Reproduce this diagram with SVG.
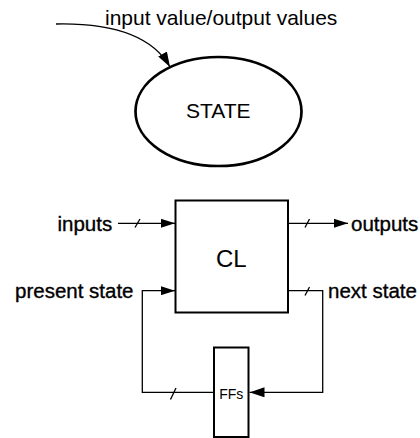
<svg xmlns="http://www.w3.org/2000/svg" width="420" height="438" viewBox="0 0 420 438">
  <defs>
    <style>
      .lbl { font-family: "Liberation Sans", Arial, sans-serif; fill: #000; }
      .heavy { stroke: #000; stroke-width: 0.35; }
      .wire { fill: none; stroke: #000; stroke-width: 1.3; }
      .box { fill: #fff; stroke: #000; stroke-width: 2; }
    </style>
    <marker id="arr" markerUnits="userSpaceOnUse" markerWidth="14" markerHeight="9" refX="14" refY="4.5" orient="auto">
      <path d="M0,0 L14,4.5 L0,9 z" fill="#000"/>
    </marker>
    <marker id="arrBig" markerUnits="userSpaceOnUse" markerWidth="15" markerHeight="10" refX="15" refY="5" orient="auto">
      <path d="M0,0 L15,5 L0,10 z" fill="#000"/>
    </marker>
  </defs>
  <rect width="420" height="438" fill="#fff"/>

  <g id="connectors">
    <path class="wire" d="M56,24 C105,23 150,32 170,67" marker-end="url(#arrBig)"/>
    <path class="wire" d="M118,223.3 H175" marker-end="url(#arr)"/>
    <line class="wire" x1="140" y1="219" x2="135" y2="227.5"/>
    <path class="wire" d="M214,392.3 H142.3 V290.7 H175" marker-end="url(#arr)"/>
    <line class="wire" x1="176" y1="388" x2="170.5" y2="399.5"/>
    <path class="wire" d="M288,223.3 H348" marker-end="url(#arr)"/>
    <line class="wire" x1="309.5" y1="219" x2="305" y2="227.5"/>
    <path class="wire" d="M288,290.7 H322.7 V392.3 H249.5" marker-end="url(#arrBig)"/>
    <line class="wire" x1="309.5" y1="287" x2="305" y2="295.5"/>
  </g>

  <g id="transition-label">
    <text class="lbl" x="105" y="25" font-size="21">input value/output values</text>
  </g>

  <g id="state">
    <ellipse cx="218.5" cy="111.5" rx="83" ry="54.5" fill="none" stroke="#000" stroke-width="2.7"/>
    <text class="lbl" x="218.3" y="118.3" font-size="21" text-anchor="middle">STATE</text>
  </g>

  <g id="cl">
    <rect class="box" x="175.5" y="200.5" width="112.5" height="112"/>
    <text class="lbl" x="231.3" y="267" font-size="24" text-anchor="middle">CL</text>
  </g>

  <g id="ffs">
    <rect class="box" x="214" y="347.5" width="34.5" height="89.5"/>
    <text class="lbl" x="231.3" y="399.3" font-size="14" text-anchor="middle">FFs</text>
  </g>

  <g id="labels">
    <text class="lbl heavy" x="57.5" y="231" font-size="20.5">inputs</text>
    <text class="lbl heavy" x="15" y="297.5" font-size="20.5">present state</text>
    <text class="lbl heavy" x="351" y="231" font-size="20.5">outputs</text>
    <text class="lbl heavy" x="328" y="297.5" font-size="20.5">next state</text>
  </g>
</svg>
